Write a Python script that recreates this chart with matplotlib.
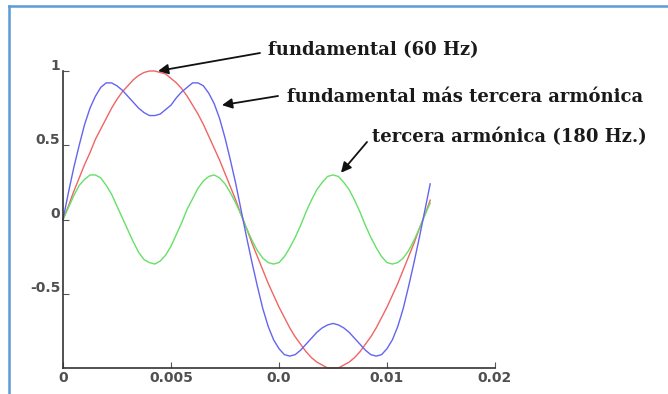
import numpy as np
from matplotlib import pyplot as plt
from matplotlib import transforms
from matplotlib.lines import Line2D

t = np.linspace(0, 0.017, 69)

# fundamental 60 Hz
fundamental = [0, .09, .19, .28, .37, .45, .54, .61, .68, .75, .81, .86, .90, .94, .97, .99, 1.0, 1.0,
               .99, .98, .95, .92, .88, .83, .77, .71, .64, .56, .48, .40, .31, .22, .13, .03, -.06,
               -.16, -.25, -.34, -.43, -.51, -.59, -.66, -.73, -.79, -.84, -.89, -.93, -.96, -.98, -1.0,
               -1.0, -1.0, -.98, -.96, -.93, -.89, -.84, -.79, -.73, -.66, -.59, -.51, -.43, -.34, -.25,
               -.16, -.06, .03, .13]

# tercera armonica 180 Hz
tercera = [0, .08, .16, .23, .27, .30, .30, .28, .23, .17, .09, .01, -.07, -.15, -.22, -.27, -.29,
           -.30, -.28, -.24, -.18, -.10, -.02, .07, .14, .21, .26, .29, .30, .28, .24, .18, .11, .03,
           -.06, -.14, -.21, -.26, -.29, -.30, -.29, -.25, -.19, -.12, -.04, .05, .13, .20, .25, .29,
           .30, .29, .25, .20, .13, .05, -.04, -.12, -.19, -.25, -.29, -.30, -.29, -.26, -.21, -.14,
           -.06, .03, .11]

# fundamental mas tercera armonica
suma = [0, .18, .35, .50, .64, .75, .83, .89, .92, .92, .90, .87, .83, .79, .75, .72, .70, .70, .71,
        .74, .77, .82, .86, .89, .92, .92, .90, .85, .78, .68, .55, .40, .24, .06, -.12, -.29, -.45,
        -.60, -.72, -.81, -.87, -.91, -.92, -.91, -.88, -.84, -.80, -.76, -.73, -.71, -.70, -.71, -.73,
        -.76, -.80, -.84, -.88, -.91, -.92, -.91, -.87, -.81, -.72, -.60, -.45, -.29, -.12, .06, .24]

xticks = [0, 0.005, 0.01, 0.015, 0.02]
xtick_labels = ["0", "0.005", "0.0", "0.01", "0.02"]
yticks = [-0.5, 0, 0.5, 1]
ytick_labels = ["-0.5", "0", "0.5", "1"]

fig = plt.figure(figsize=(6.68, 3.94), dpi=100)
ax = fig.add_axes([63 / 668, 26 / 394, 432 / 668, 297 / 394])

ax.plot(t, fundamental, color="#f06464", lw=1.0, clip_on=False)
ax.plot(t, tercera, color="#66e066", lw=1.0, clip_on=False)
ax.plot(t, suma, color="#6464f0", lw=1.0, clip_on=False)

ax.set_xlim(0, 0.02)
ax.set_ylim(-1, 1)
for s in ["top", "right"]:
    ax.spines[s].set_visible(False)
for s in ["left", "bottom"]:
    ax.spines[s].set_color("#333333")
    ax.spines[s].set_linewidth(1.2)

ax.set_xticks(xticks)
ax.set_xticklabels(xtick_labels)
ax.set_yticks(yticks)
ax.set_yticklabels(ytick_labels)
ax.tick_params(direction="in", length=4, width=0.8, color="#555555", pad=2)
for lab in ax.get_xticklabels() + ax.get_yticklabels():
    lab.set_fontfamily("DejaVu Sans")
    lab.set_fontweight("bold")
    lab.set_fontsize(10)
    lab.set_color("#505050")
# etiquetas del eje y un poco por encima de la marca
off = transforms.ScaledTranslation(0, 7 / 100, fig.dpi_scale_trans)
for lab in ax.get_yticklabels():
    lab.set_transform(lab.get_transform() + off)

# textos y flechas
txt = dict(family="DejaVu Serif", fontsize=13, fontweight="bold", color="#1a1a1a",
           va="baseline", ha="left")
fig.text(268, 394 - 55, "fundamental (60 Hz)", transform=None, **txt)
fig.text(287, 394 - 102, "fundamental más tercera armónica", transform=None, **txt)
fig.text(372, 394 - 142, "tercera armónica (180 Hz.)", transform=None, **txt)

arrow = dict(arrowstyle="-|>", color="#111111", lw=1.3, mutation_scale=15,
             shrinkA=0, shrinkB=0)
ax.annotate("", xy=(0.0044, 1.0), xycoords="data", xytext=(260, 394 - 53),
            textcoords="figure pixels", arrowprops=arrow)
ax.annotate("", xy=(0.00736, 0.77), xycoords="data", xytext=(278, 394 - 96),
            textcoords="figure pixels", arrowprops=arrow)
ax.annotate("", xy=(0.01287, 0.315), xycoords="data", xytext=(367, 394 - 142),
            textcoords="figure pixels", arrowprops=arrow)

# marco azul
fig.add_artist(Line2D([9 / 668, 9 / 668], [0, 1 - 6 / 394], color="#5b9bd5", lw=1.8))
fig.add_artist(Line2D([9 / 668, 1], [1 - 6 / 394, 1 - 6 / 394], color="#5b9bd5", lw=1.8))

plt.savefig("out.png", dpi=100)
